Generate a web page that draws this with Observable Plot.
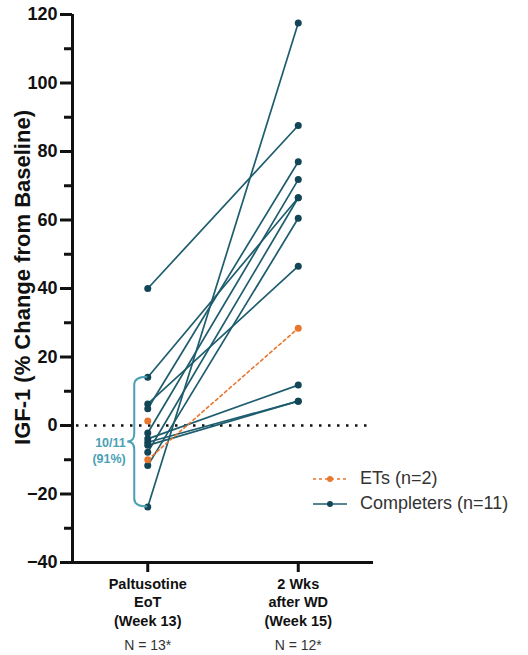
<!DOCTYPE html>
<html><head><meta charset="utf-8">
<script src="https://cdn.jsdelivr.net/npm/d3@7"></script>
<script src="https://cdn.jsdelivr.net/npm/@observablehq/plot@0.6"></script>
<style>
body{margin:0;background:#fff;font-family:"Liberation Sans",Arial,sans-serif;}
#wrap{position:relative;width:528px;height:655px;overflow:hidden;}
#legend{position:absolute;left:312px;top:466px;font-size:18px;color:#333;}
.row{display:flex;align-items:center;height:25px;white-space:nowrap;}
.row svg{margin-right:12px;}
</style></head><body>
<div id="wrap"><div id="chart"></div><div id="legend"></div></div>
<script>
// ---- data ----
const categories = ["Paltusotine\nEoT\n(Week 13)", "2 Wks\nafter WD\n(Week 15)"];
const sampleSizes = ["N = 13*", "N = 12*"];
const completersWeek13 = [40, 14.1, 6.3, 4.9, -2.2, -3.9, -4.9, -5.8, -7.8, -11.7, -23.8];
const completersWeek15 = [87.6, 66.5, 46.5, 77.0, 71.8, 11.8, 7.1, 7.1, 66.5, 60.5, 117.5];
const etsWeek13 = [1.3, -10.0];
const etsWeek15 = [null, 28.4];
const yTicks = [-40, -20, 0, 20, 40, 60, 80, 100, 120];
const yMinorTicks = [-30, -10, 10, 30, 50, 70, 90, 110];
const seriesNames = ["ETs (n=2)", "Completers (n=11)"];
const yLabel = "IGF-1 (% Change from Baseline)";
const bracketLabel = "10/11\n(91%)";

// ---- styles ----
const teal = "#1e5d6e", tealDot = "#124656", orange = "#e8772e", light = "#4aa0b4";
const xDomain = [-0.5, 1.5], yDomain = [-40, 120];

function rowsFor(w13, w15, group) {
  const out = [];
  w13.forEach((v, i) => {
    out.push({id: group + i, x: 0, y: v});
    if (w15[i] != null) out.push({id: group + i, x: 1, y: w15[i]});
  });
  return out;
}
const compRows = rowsFor(completersWeek13, completersWeek15, "c");
const etRows = rowsFor(etsWeek13, etsWeek15, "e");
const bracketed = d3.sort(completersWeek13, d => -d).slice(1);

function brace(index, scales) {
  const x0 = scales.x(0);
  const yT = scales.y(d3.max(bracketed)), yB = scales.y(d3.min(bracketed));
  const ym = (yT + yB) / 2, xb = x0 - 13, xt = x0 - 20, r = 8;
  const p = `M${x0},${yT} Q${xb},${yT} ${xb},${yT + r} L${xb},${ym - r} Q${xb},${ym} ${xt},${ym} Q${xb},${ym} ${xb},${ym + r} L${xb},${yB - r} Q${xb},${yB} ${x0},${yB}`;
  const g = d3.create("svg:path").attr("d", p).attr("fill", "none").attr("stroke", light).attr("stroke-width", 2);
  return g.node();
}

const chart = Plot.plot({
  width: 528, height: 655,
  marginTop: 14, marginBottom: 93, marginLeft: 72, marginRight: 155,
  style: {fontFamily: "Liberation Sans, Arial, sans-serif", background: "#fff", color: "#111"},
  x: {domain: xDomain, axis: null},
  y: {domain: yDomain, axis: null},
  marks: [
    Plot.ruleY([0], {stroke: "#111", strokeWidth: 2.5, strokeDasharray: "2.5,6.5", strokeDashoffset: -4}),
    Plot.line(compRows, {x: "x", y: "y", z: "id", stroke: teal, strokeWidth: 1.7}),
    Plot.line(etRows, {x: "x", y: "y", z: "id", stroke: orange, strokeWidth: 1.6, strokeDasharray: "3,3"}),
    Plot.dot(compRows, {x: "x", y: "y", r: 3.5, fill: tealDot}),
    Plot.dot(etRows, {x: "x", y: "y", r: 3.5, fill: orange}),
    brace,
    Plot.text([bracketLabel], {x: 0, y: d3.mean([d3.max(bracketed), d3.min(bracketed)]), dx: -22, dy: 8,
      textAnchor: "end", lineHeight: 1.3, fontSize: 12.5, fontWeight: "bold", fill: light}),
    Plot.ruleY([yDomain[0]], {stroke: "#111", strokeWidth: 3}),
    Plot.ruleX([xDomain[0]], {stroke: "#111", strokeWidth: 3}),
    Plot.axisY(yTicks, {tickSize: 12, strokeWidth: 3, tickPadding: 3, fontSize: 18, fontWeight: "bold", label: null}),
    Plot.axisY(yMinorTicks, {tickSize: 8, strokeWidth: 3, tickFormat: () => "", label: null}),
    Plot.axisX([0, 1], {tickSize: 10, strokeWidth: 3, tickPadding: 3, tickFormat: i => categories[i],
      fontSize: 14.5, fontWeight: "bold", lineHeight: 1.28, label: null}),
    Plot.text(sampleSizes, {x: (d, i) => i, y: yDomain[0], dy: 83, fontSize: 14, fill: "#333"}),
    Plot.text([yLabel], {frameAnchor: "left", textAnchor: "middle", lineAnchor: "middle", dx: -50, dy: -11, rotate: -90, fontSize: 22, fontWeight: "bold", fill: "#111"})
  ]
});
document.getElementById("chart").append(chart);

// ---- legend ----
const legend = d3.select("#legend");
const swatches = [
  {name: seriesNames[0], color: orange, dash: "3,3"},
  {name: seriesNames[1], color: teal, dash: null}
];
swatches.forEach(s => {
  const row = legend.append("div").attr("class", "row");
  const sv = row.append("svg").attr("width", 36).attr("height", 10);
  sv.append("line").attr("x1", 1).attr("x2", 35).attr("y1", 5).attr("y2", 5)
    .attr("stroke", s.color).attr("stroke-width", 1.7).attr("stroke-dasharray", s.dash);
  sv.append("circle").attr("cx", 18).attr("cy", 5).attr("r", 3).attr("fill", s.color === teal ? tealDot : s.color);
  row.append("span").text(s.name);
});
</script>
</body></html>
